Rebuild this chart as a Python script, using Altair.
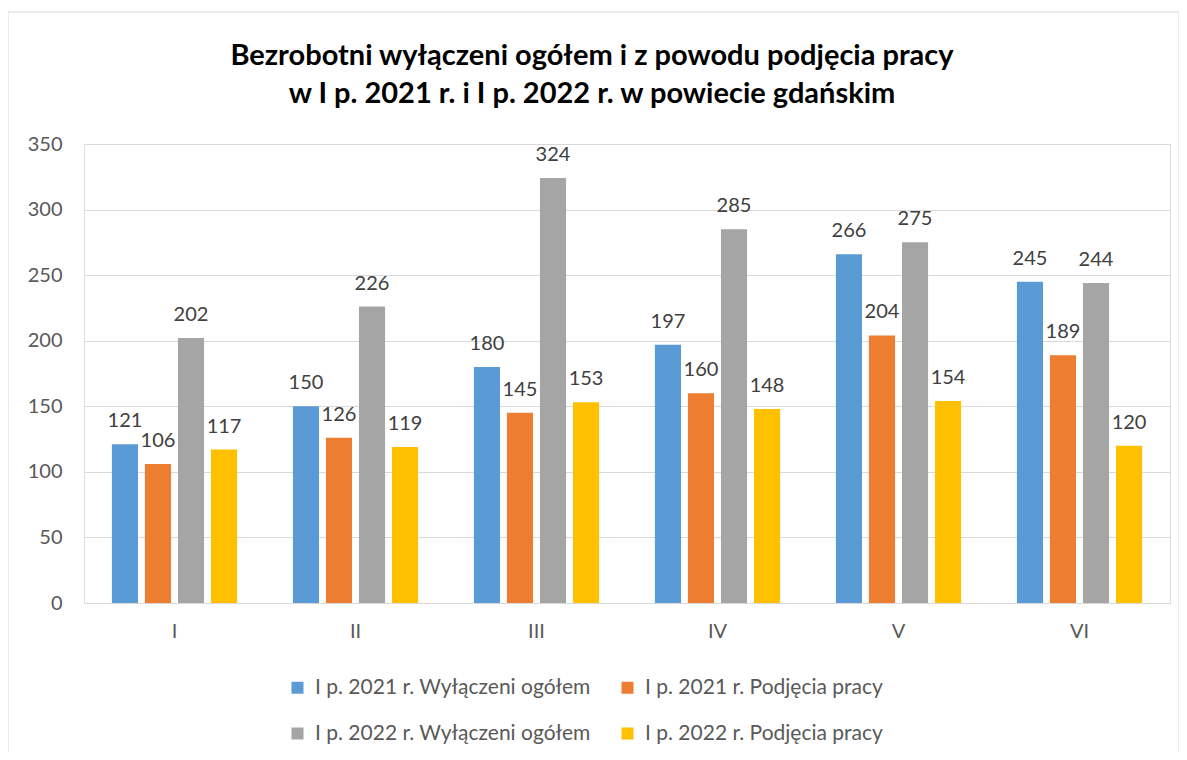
import altair as alt
import pandas as pd

months = ["I", "II", "III", "IV", "V", "VI"]
series = [
    "I p. 2021 r. Wyłączeni ogółem",
    "I p. 2021 r. Podjęcia pracy",
    "I p. 2022 r. Wyłączeni ogółem",
    "I p. 2022 r. Podjęcia pracy",
]
wyl_2021 = [121, 150, 180, 197, 266, 245]
podj_2021 = [106, 126, 145, 160, 204, 189]
wyl_2022 = [202, 226, 324, 285, 275, 244]
podj_2022 = [117, 119, 153, 148, 154, 120]
colors = ["#5B9BD5", "#ED7D31", "#A5A5A5", "#FFC000"]
title_lines = [
    "Bezrobotni wyłączeni ogółem i z powodu podjęcia pracy",
    "w I p. 2021 r. i I p. 2022 r. w powiecie gdańskim",
]

rows = []
for s, vals in zip(series, [wyl_2021, podj_2021, wyl_2022, podj_2022]):
    for m, v in zip(months, vals):
        rows.append({"month": m, "series": s, "value": v})
df = pd.DataFrame(rows)

FONT = "Lato"

base = alt.Chart(df).encode(
    x=alt.X(
        "month:N",
        sort=months,
        title=None,
        scale=alt.Scale(paddingInner=0.27, paddingOuter=0.135),
        axis=alt.Axis(
            labelAngle=0,
            labelFont=FONT,
            labelFontSize=20,
            labelColor="#595959",
            labelPadding=18,
            ticks=False,
            tickSize=0,
            domain=True,
            domainColor="#D9D9D9",
            domainWidth=1,
            grid=False,
        ),
    ),
    xOffset=alt.XOffset(
        "series:N",
        sort=series,
        scale=alt.Scale(paddingInner=0.21, paddingOuter=0.105),
    ),
    y=alt.Y(
        "value:Q",
        title=None,
        scale=alt.Scale(domain=[0, 350], nice=False),
        axis=alt.Axis(
            values=[0, 50, 100, 150, 200, 250, 300, 350],
            labelFont=FONT,
            labelFontSize=20,
            labelColor="#595959",
            labelPadding=22,
            ticks=False,
            tickSize=0,
            domain=False,
            grid=True,
            gridColor="#D9D9D9",
            gridWidth=1,
        ),
    ),
)

bars = base.mark_bar().encode(
    color=alt.Color(
        "series:N",
        sort=series,
        title=None,
        scale=alt.Scale(domain=series, range=colors),
        legend=alt.Legend(
            orient="none",
            direction="horizontal",
            legendX=203,
            legendY=533,
            columns=2,
            symbolType="square",
            symbolSize=144,
            symbolStrokeWidth=0,
            labelFont=FONT,
            labelFontSize=21,
            labelColor="#595959",
            labelOffset=7,
            labelLimit=500,
            rowPadding=24,
            columnPadding=26,
        ),
    )
)

labels = base.mark_text(
    baseline="alphabetic", dy=-17, fontSize=20, font=FONT, color="#404040"
).encode(text="value:Q")

border = alt.Chart(pd.DataFrame({"a": [0]})).mark_rect(
    fillOpacity=0, stroke="#D9D9D9", strokeWidth=1
).encode(
    x=alt.value(-76), x2=alt.value(1095), y=alt.value(-132), y2=alt.value(700)
)

chart = (
    alt.layer(border, bars, labels)
    .properties(
        width=1086,
        height=459,
        title=alt.Title(
            text=title_lines,
            font=FONT,
            fontSize=29,
            fontWeight="bold",
            color="#000000",
            anchor="middle",
            frame="group",
            dx=-35,
            dy=97,
            lineHeight=38,
            offset=0,
        ),
        autosize=alt.AutoSizeParams(type="none"),
        padding={"left": 76, "top": 136, "right": 9, "bottom": 149},
    )
    .configure_view(strokeWidth=0)
    .configure(background="#FFFFFF")
)

chart.save("out.html", embed_options={"renderer": "svg", "actions": False})
